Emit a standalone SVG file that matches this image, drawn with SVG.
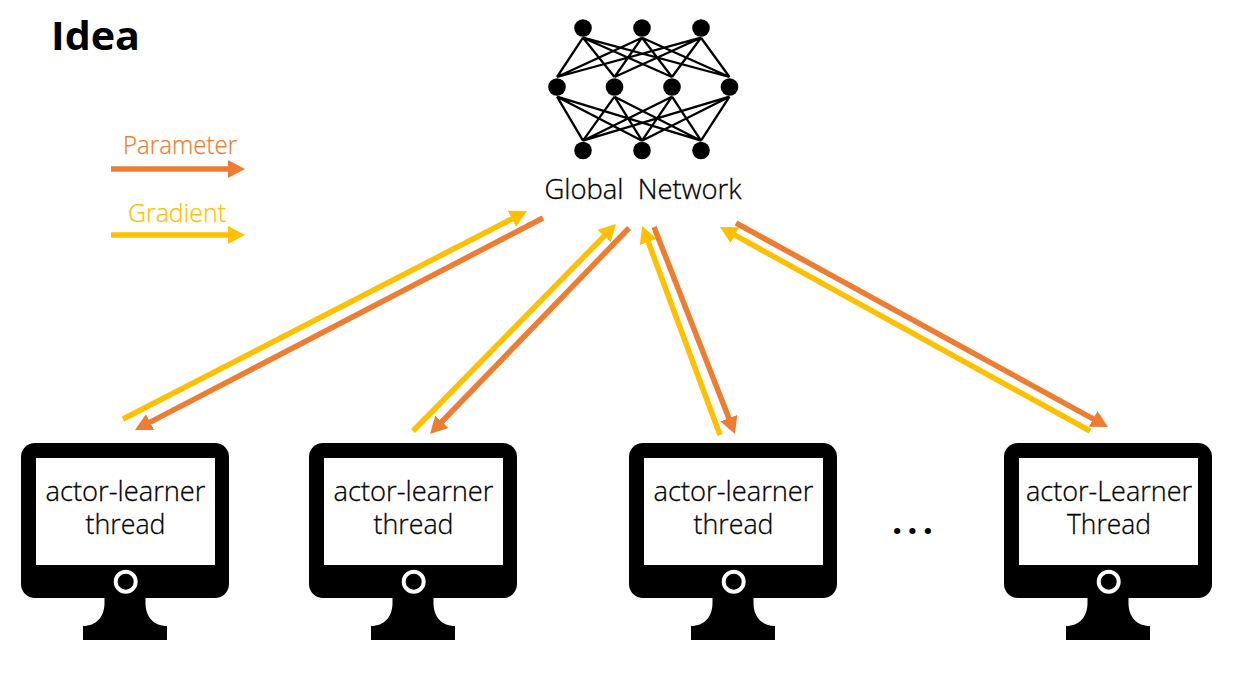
<svg xmlns="http://www.w3.org/2000/svg" width="1236" height="684" viewBox="0 0 1236 684">
<style>
text{font-family:"Open Sans","Noto Sans","Liberation Sans",sans-serif;fill:#000;text-anchor:middle;font-weight:300}
.mon,.gn{stroke:#000;stroke-width:.3px}
.mon{font-size:28px}
.o{stroke:#ED7D31;stroke-width:5.5;fill:none;marker-end:url(#ao)}
.y{stroke:#FFC000;stroke-width:5.5;fill:none;marker-end:url(#ay)}
.e{stroke:#000;stroke-width:2.300;fill:none}
</style>
<defs>
<marker id="ao" markerUnits="userSpaceOnUse" markerWidth="19" markerHeight="20" refX="1" refY="10" orient="auto"><path d="M0 1L17 10L0 19Z" fill="#ED7D31"/></marker>
<marker id="ay" markerUnits="userSpaceOnUse" markerWidth="19" markerHeight="20" refX="1" refY="10" orient="auto"><path d="M0 1L17 10L0 19Z" fill="#FFC000"/></marker>
<g id="monitor">
<rect x="21" y="443" width="208" height="155" rx="14" fill="#000"/>
<rect x="36" y="458" width="179" height="107" fill="#fff"/>
<circle cx="125.700" cy="581.700" r="10" fill="#000" stroke="#fff" stroke-width="4"/>
<path d="M104.500 597V603C104.500 617 96 626 83 626V640H167V626C154 626 145.500 617 145.500 603V597Z" fill="#000"/>
</g>
</defs>
<rect width="1236" height="684" fill="#fff"/>
<text id="title" x="95.500" y="50" font-size="40" style="font-weight:700" textLength="89" lengthAdjust="spacingAndGlyphs">Idea</text>
<g id="legend">
<text x="180" y="154" font-size="25" style="fill:#ED7D31;stroke:#ED7D31;stroke-width:.25px" textLength="114" lengthAdjust="spacingAndGlyphs">Parameter</text>
<text x="177" y="222" font-size="25" style="fill:#FFC000;stroke:#FFC000;stroke-width:.25px" textLength="98" lengthAdjust="spacingAndGlyphs">Gradient</text>
</g>
<g id="global-network">
<path class="e" d="M583 37.700L557 77M583 37.700L614.500 77M583 37.700L672 77M583 37.700L729.500 77M642 37.700L557 77M642 37.700L614.500 77M642 37.700L672 77M642 37.700L729.500 77M701 37.700L557 77M701 37.700L614.500 77M701 37.700L672 77M701 37.700L729.500 77M557 96.700L583 140.700M557 96.700L642 140.700M557 96.700L701 140.700M614.500 96.700L583 140.700M614.500 96.700L642 140.700M614.500 96.700L701 140.700M672 96.700L583 140.700M672 96.700L642 140.700M672 96.700L701 140.700M729.500 96.700L583 140.700M729.500 96.700L642 140.700M729.500 96.700L701 140.700"/>
<g fill="#000">
<circle cx="583" cy="28" r="8.800"/><circle cx="642" cy="28" r="8.800"/><circle cx="701" cy="28" r="8.800"/>
<circle cx="557" cy="87" r="8.800"/><circle cx="614.500" cy="87" r="8.800"/><circle cx="672" cy="87" r="8.800"/><circle cx="729.500" cy="87" r="8.800"/>
<circle cx="583" cy="150.500" r="8.800"/><circle cx="642" cy="150.500" r="8.800"/><circle cx="701" cy="150.500" r="8.800"/>
</g>
<text class="gn" x="643" y="199" font-size="27" xml:space="preserve" textLength="197" lengthAdjust="spacingAndGlyphs">Global  Network</text>
</g>
<g id="node-1"><use href="#monitor"/><text class="mon" x="125.500" y="501" textLength="160" lengthAdjust="spacingAndGlyphs">actor-learner</text><text class="mon" x="125.500" y="534" textLength="80" lengthAdjust="spacingAndGlyphs">thread</text></g>
<g id="node-2"><use href="#monitor" x="288"/><text class="mon" x="413.500" y="501" textLength="160" lengthAdjust="spacingAndGlyphs">actor-learner</text><text class="mon" x="413.500" y="534" textLength="80" lengthAdjust="spacingAndGlyphs">thread</text></g>
<g id="node-3"><use href="#monitor" x="608"/><text class="mon" x="733.500" y="501" textLength="160" lengthAdjust="spacingAndGlyphs">actor-learner</text><text class="mon" x="733.500" y="534" textLength="80" lengthAdjust="spacingAndGlyphs">thread</text></g>
<g id="node-4"><use href="#monitor" x="983"/><text class="mon" x="1109" y="501" textLength="166" lengthAdjust="spacingAndGlyphs">actor-Learner</text><text class="mon" x="1109" y="534" textLength="84" lengthAdjust="spacingAndGlyphs">Thread</text></g>
<text id="ellipsis" x="892" y="534" font-size="36" letter-spacing="5.100" style="font-weight:700;text-anchor:start">...</text>
<g id="connectors">
<line class="o" x1="111" y1="169" x2="229" y2="169"/>
<line class="y" x1="111" y1="235" x2="229" y2="235"/>
<line class="y" x1="123" y1="419" x2="512.800" y2="218.400"/>
<line class="o" x1="543" y1="218" x2="149.200" y2="422.600"/>
<line class="y" x1="413" y1="431" x2="604.800" y2="235.400"/>
<line class="o" x1="629" y1="228" x2="441.100" y2="422.500"/>
<line class="y" x1="720" y1="435" x2="647.900" y2="241"/>
<line class="o" x1="654" y1="227" x2="729.200" y2="419.100"/>
<line class="y" x1="1090" y1="431" x2="734" y2="234.700"/>
<line class="o" x1="736" y1="223" x2="1094" y2="419.300"/>
</g>
</svg>
